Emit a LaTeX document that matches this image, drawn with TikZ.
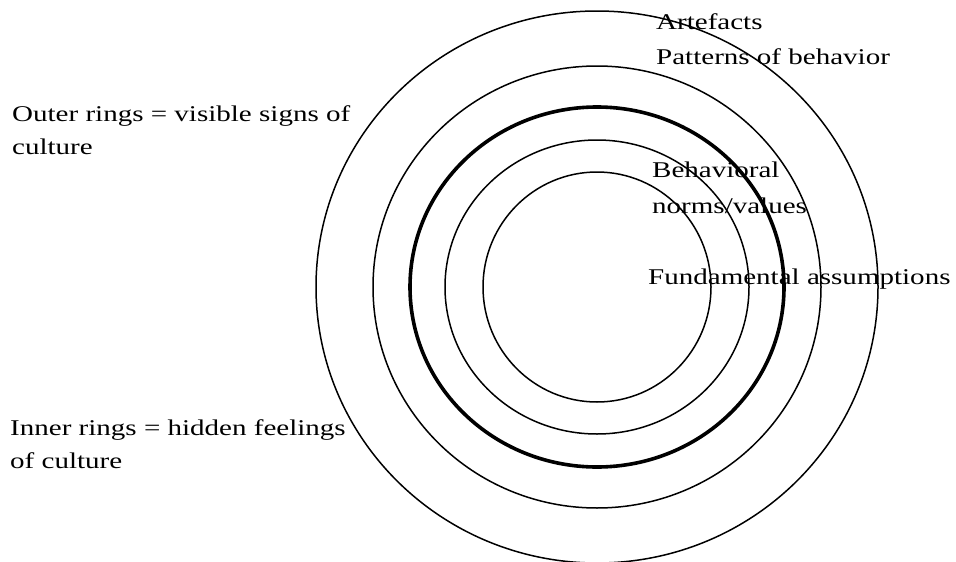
\documentclass[tikz,border=0pt]{standalone}
\usepackage{fontspec}
\setmainfont{Liberation Serif}[FakeStretch=1.29]
\tikzset{ring/.style={draw=black,line width=1.5pt},
  thickring/.style={draw=black,line width=3.6pt},
  note/.style={anchor=base west,inner sep=0pt,font=\fontsize{22.5}{26}\selectfont}}

\begin{document}
\begin{tikzpicture}[x=1pt,y=-1pt]
  \path[use as bounding box] (0,0) rectangle (956,562);
  % rings, outermost first
  \draw[ring] (597,287) ellipse [x radius=281,y radius=276];
  \draw[ring] (597,287) ellipse [x radius=224,y radius=221];
  \draw[thickring] (597,287) ellipse [x radius=187,y radius=180];
  \draw[ring] (597,287) ellipse [x radius=152,y radius=147];
  \draw[ring] (597,287) ellipse [x radius=114,y radius=115];
  % texts on the right
  \node[note] (artefacts) at (656,29) {Artefacts};
  \node[note] (patterns) at (656,64) {Patterns of behavior};
  \node[note] (behav) at (652,177) {Behavioral};
  \node[note] (norms) at (652,213) {norms/values};
  \node[note] (fund) at (648,284) {Fundamental assumptions};
  % texts on the left
  \node[note] (outer) at (12,121) {Outer rings = visible signs of};
  \node[note] (outer2) at (12,154) {culture};
  \node[note] (inner) at (10,435) {Inner rings = hidden feelings};
  \node[note] (inner2) at (10,468) {of culture};
\end{tikzpicture}
\end{document}
